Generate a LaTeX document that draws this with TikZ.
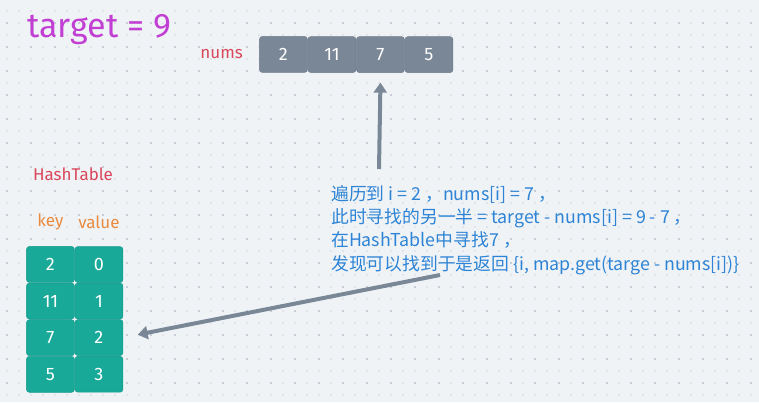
\documentclass[tikz,border=0pt]{standalone}
\usepackage{fontspec}
\setmainfont{Fira Sans}
\newfontfamily\cjk{Noto Sans CJK SC}
\usepackage{xcolor}
\usepackage{tikz}
\usetikzlibrary{arrows.meta}
\usetikzlibrary{matrix}
\definecolor{bgcolor}{HTML}{F0F3F6}
\definecolor{dotlight}{HTML}{E1E5EA}
\definecolor{dotdark}{HTML}{C8CDD5}
\definecolor{slate}{HTML}{7A8796}
\definecolor{tablegreen}{HTML}{19A999}
\definecolor{labelred}{HTML}{D9475A}
\definecolor{keyorange}{HTML}{EA8A3E}
\definecolor{targetpurple}{HTML}{C13FD3}
\definecolor{noteblue}{HTML}{2D84D6}
\newcommand\fsz[1]{\fontsize{#1}{#1}\selectfont}
\tikzstyle{cell}=[minimum width=48pt,minimum height=36pt,inner sep=0pt,outer sep=0pt,rounded corners=3pt,text=white,font=\fsz{18},line width=.5pt]
\tikzstyle{numcell}=[cell,fill=slate,draw=slate!92!black]
\tikzstyle{hashcell}=[cell,fill=tablegreen,draw=tablegreen!92!black]
\tikzstyle{caption}=[inner sep=0pt,font=\fsz{17}]
\tikzstyle{ptr}=[line width=4pt,draw=slate,-{Triangle[length=10pt,width=13pt]}]

\begin{document}
\begin{tikzpicture}[x=1pt,y=-1pt]
	\fill[bgcolor] (0,0) rectangle (759,402);
	\useasboundingbox (0,0) rectangle (759,402);
	\foreach \x in {6.7,18.7,...,758}
		\foreach \y in {11.3,23.3,...,401}
			\fill[dotlight] (\x-1,\y-1) rectangle ++(2,2);
	\foreach \x in {6.7,30.7,...,758}
		\foreach \y in {23.3,47.3,...,401}
			\fill[dotdark] (\x-1,\y-1) rectangle ++(2,2);
	\matrix (nums) [matrix of nodes,nodes=numcell,inner sep=0pt,column sep=0pt,anchor=north west,ampersand replacement=\&] at (259,36) {
		2 \& 11 \& 7 \& 5 \\
	};
	\matrix (hash) [matrix of nodes,nodes=hashcell,inner sep=0pt,column sep=0pt,row sep=0pt,anchor=north west,ampersand replacement=\&] at (26,246) {
		2 \& 0 \\ 11 \& 1 \\ 7 \& 2 \\ 5 \& 3 \\
	};
	\node[caption,font=\fsz{34},text=targetpurple,anchor=west] (target) at (27,30) {target = 9};
	\node[caption,text=labelred,anchor=east] (numslabel) at (243,54) {nums};
	\node[caption,text=labelred] (hashlabel) at (73,174) {HashTable};
	\node[caption,text=keyorange] (keylabel) at (hash-1-1 |- 0,222) {key};
	\node[caption,text=keyorange] (valuelabel) at (hash-1-2 |- 0,222) {value};
	\node[inner sep=0pt,anchor=north west,align=left,text=noteblue,font=\cjk\fontsize{17.8}{23.3}\selectfont] (note) at (331,185) {%
		遍历到 i = 2 ，nums[i] = 7 ，\\
		此时寻找的另一半 = target - nums[i] = 9 - 7 ，\\
		在HashTable中寻找7 ，\\
		发现可以找到于是返回 \{i, map.get(targe - nums[i])\}};
	\coordinate (uptail) at (379,169);
	\coordinate (backtail) at (440,275);
	\draw[ptr] (uptail) -- ([yshift=-10pt]nums-1-3.south);
	\draw[ptr,shorten >=15pt] (backtail) -- (hash-3-2.east);
\end{tikzpicture}
\end{document}
